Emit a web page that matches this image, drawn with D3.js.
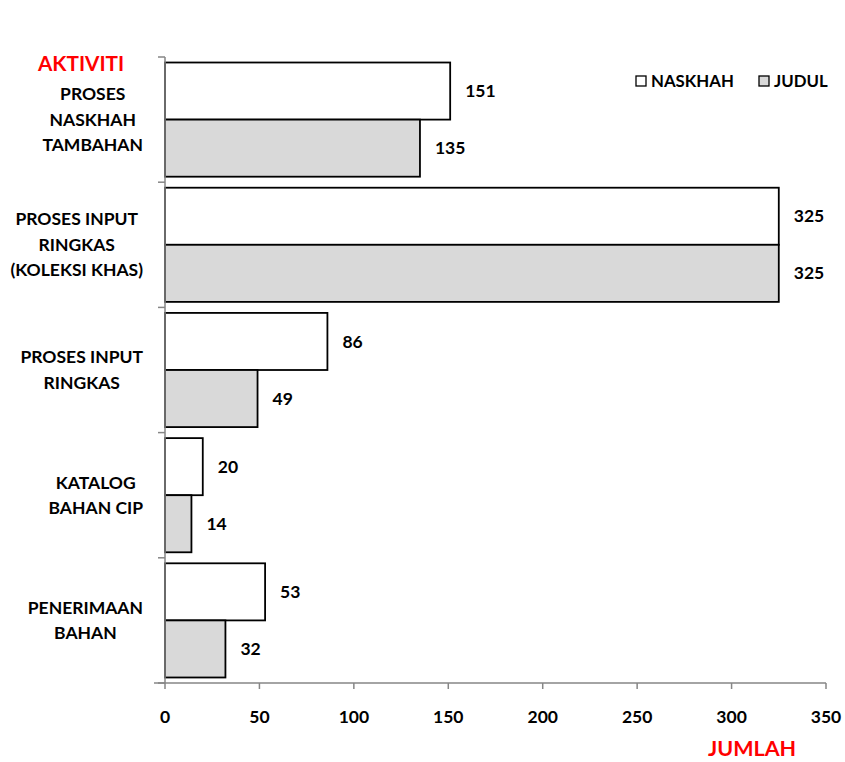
<!DOCTYPE html>
<html>
<head>
<meta charset="utf-8">
<script src="https://cdn.jsdelivr.net/npm/d3@7"></script>
<style>
body { margin: 0; background: #fff; }
text { font-family: Lato, "Open Sans", sans-serif; font-weight: bold; }
</style>
</head>
<body>
<div id="chart"></div>
<script>
// data
var categories = ["PROSES NASKHAH TAMBAHAN", "PROSES INPUT RINGKAS (KOLEKSI KHAS)", "PROSES INPUT RINGKAS", "KATALOG BAHAN CIP", "PENERIMAAN BAHAN"]
var labelLines = [["PROSES", "NASKHAH", "TAMBAHAN"], ["PROSES INPUT", "RINGKAS", "(KOLEKSI KHAS)"], ["PROSES INPUT", "RINGKAS"], ["KATALOG", "BAHAN CIP"], ["PENERIMAAN", "BAHAN"]]
var series = ["NASKHAH", "JUDUL"]
var naskhah = [151, 325, 86, 20, 53]
var judul = [135, 325, 49, 14, 32]
var xTicks = [0, 50, 100, 150, 200, 250, 300, 350]
var colors = {NASKHAH: "#ffffff", JUDUL: "#d9d9d9"}

var W = 845, H = 762
var plot = {left: 165, right: 826, top: 57, bottom: 683}
var fs = "17.5px"

var svg = d3.select("#chart").append("svg")
    .attr("width", W).attr("height", H)

var x = d3.scaleLinear().domain([0, 350]).range([plot.left, plot.right])
var y = d3.scaleBand().domain(categories).range([plot.top, plot.bottom])
    .paddingInner(0.088).paddingOuter(0.044)
var ySub = d3.scaleBand().domain(series).range([0, y.bandwidth()])

var rows = categories.map(function(c, i) {
    return {cat: c, values: [{s: "NASKHAH", v: naskhah[i]}, {s: "JUDUL", v: judul[i]}]}
})

// bars
var groups = svg.append("g").selectAll("g").data(rows).join("g")
    .attr("transform", function(d) { return "translate(0," + y(d.cat) + ")" })

groups.selectAll("rect").data(function(d) { return d.values }).join("rect")
    .attr("x", x(0))
    .attr("y", function(d) { return ySub(d.s) })
    .attr("width", function(d) { return x(d.v) - x(0) })
    .attr("height", ySub.bandwidth())
    .style("fill", function(d) { return colors[d.s] })
    .style("stroke", "#000").style("stroke-width", 1.8)

groups.selectAll("text").data(function(d) { return d.values }).join("text")
    .attr("x", function(d) { return x(d.v) + 15 })
    .attr("y", function(d) { return ySub(d.s) + ySub.bandwidth() / 2 })
    .attr("dy", "0.35em")
    .style("font-size", fs)
    .text(function(d) { return d.v })

// axes
var grey = "#868686"
svg.append("line")
    .attr("x1", x(0)).attr("x2", x(0)).attr("y1", plot.top).attr("y2", plot.bottom)
    .style("stroke", grey).style("stroke-width", 1.5)
var yBounds = d3.range(categories.length + 1).map(function(i) { return plot.top + i * y.step() })
svg.selectAll(".ytick").data(yBounds).join("line")
    .attr("x1", x(0) - 7).attr("x2", x(0))
    .attr("y1", function(d) { return d }).attr("y2", function(d) { return d })
    .style("stroke", grey).style("stroke-width", 1.5)

svg.append("line")
    .attr("x1", x(0) - 11).attr("x2", plot.right).attr("y1", plot.bottom).attr("y2", plot.bottom)
    .style("stroke", grey).style("stroke-width", 1.5)
svg.selectAll(".xtick").data(xTicks).join("line")
    .attr("x1", function(d) { return x(d) }).attr("x2", function(d) { return x(d) })
    .attr("y1", plot.bottom).attr("y2", plot.bottom + 6)
    .style("stroke", grey).style("stroke-width", 1.5)
svg.selectAll(".xlabel").data(xTicks).join("text")
    .attr("x", function(d) { return x(d) }).attr("y", 717)
    .attr("dy", "0.35em").attr("text-anchor", "middle")
    .style("font-size", fs)
    .text(function(d) { return d })

// category labels, block right-aligned, lines centred
var lineH = 25.5
labelLines.forEach(function(lines, i) {
    var cy = y(categories[i]) + y.bandwidth() / 2
    var g = svg.append("g")
    var texts = g.selectAll("text").data(lines).join("text")
        .attr("y", function(d, j) { return cy + (j - (lines.length - 1) / 2) * lineH })
        .attr("dy", "0.35em").attr("text-anchor", "middle")
        .style("font-size", fs)
        .text(function(d) { return d })
    var maxW = d3.max(texts.nodes(), function(n) { return n.getComputedTextLength() })
    texts.attr("x", 143 - maxW / 2)
})

// titles
svg.append("text").attr("x", 38).attr("y", 64).attr("dy", "0.35em")
    .style("font-size", "20.7px").style("fill", "#ff0000").text("AKTIVITI")
svg.append("text").attr("x", 708).attr("y", 748).attr("dy", "0.35em")
    .style("font-size", "21.5px").style("fill", "#ff0000").text("JUMLAH")

// legend
var legendX = [636, 759]
var legend = svg.append("g").selectAll("g").data(series).join("g")
    .attr("transform", function(d, i) { return "translate(" + legendX[i] + ",76)" })
legend.append("rect").attr("width", 10).attr("height", 10)
    .style("fill", function(d) { return colors[d] })
    .style("stroke", "#000").style("stroke-width", 1.3)
legend.append("text").attr("x", 15).attr("y", 5).attr("dy", "0.35em")
    .style("font-size", "16.8px").text(function(d) { return d })
</script>
</body>
</html>
